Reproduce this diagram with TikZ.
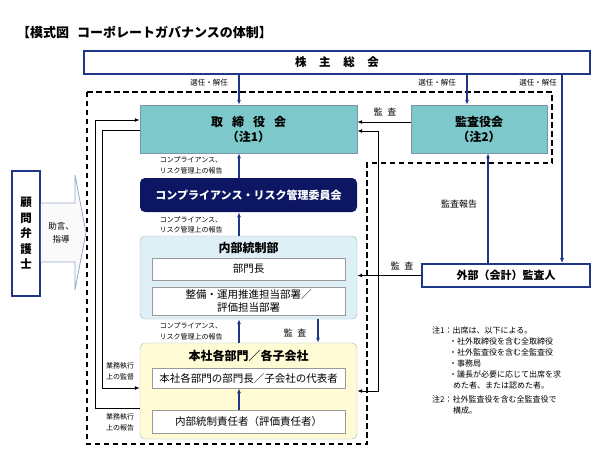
\documentclass[tikz,border=0pt]{standalone}
\usepackage{fontspec}
\setmainfont{Noto Sans CJK JP}
\usetikzlibrary{arrows.meta}
\definecolor{govblue}{RGB}{30,55,135}
\definecolor{govteal}{RGB}{125,200,202}
\definecolor{govnavy}{RGB}{12,22,98}
\definecolor{icfill}{RGB}{222,239,246}
\definecolor{bufill}{RGB}{255,251,212}
\definecolor{boxedge}{RGB}{120,150,165}
\definecolor{adviceedge}{RGB}{150,170,200}

\begin{document}
\begin{tikzpicture}[x=1pt, y=-1pt,
    bluebox/.style={draw=govblue, line width=1.6pt, fill=white, inner sep=0pt},
    tealbox/.style={draw=boxedge, fill=govteal, inner sep=0pt, minimum height=48pt, align=center, font=\fontsize{12}{15}\selectfont\bfseries},
    groupbox/.style={draw=boxedge!70, rounded corners=5pt, minimum width=217pt, inner sep=0pt},
    innerbox/.style={draw=gray!80, fill=white, minimum width=193pt, inner sep=0pt, align=center, font=\fontsize{10.5}{13}\selectfont},
    heading/.style={inner sep=0pt, font=\fontsize{12}{14}\selectfont\bfseries},
    lbl/.style={inner sep=0pt, align=center, font=\fontsize{7}{10.5}\selectfont},
    sellbl/.style={inner sep=0pt, font=\fontsize{7.5}{9}\selectfont},
    midlbl/.style={inner sep=0pt, font=\fontsize{9}{11}\selectfont},
    bluearr/.style={draw=govblue, line width=1.3pt, -{Latex[length=5pt,width=4pt]}},
    blackarr/.style={line width=1pt, -{Latex[length=5pt,width=4pt]}}]

    \useasboundingbox (0,0) rectangle (615,461);

    \node[anchor=west, inner sep=0pt, font=\fontsize{13}{15}\selectfont\bfseries] (title) at (17,32) {【模式図\hspace{0.6em}コーポレートガバナンスの体制】};

    \draw[line width=1.3pt, dash pattern=on 5.5pt off 3.5pt] (87,92) -- (552,92) -- (552,163) -- (367,163) -- (367,444) -- (87,444) -- cycle;

    \node[bluebox, minimum width=506pt, minimum height=23pt, font=\fontsize{11.5}{14}\selectfont\bfseries] (agm) at (337,62.5) {株\hspace{1.1em}主\hspace{1.1em}総\hspace{1.1em}会};
    \node[tealbox, minimum width=217pt] (board) at (248.5,129) {取\hspace{0.75em}締\hspace{0.75em}役\hspace{0.75em}会\\（注1）};
    \node[tealbox, minimum width=136pt] (kansa) at (479,129) {監査役会\\（注2）};
    \node[fill=govnavy, rounded corners=5pt, minimum width=217pt, minimum height=34pt, inner sep=0pt, text=white, font=\fontsize{11}{13}\selectfont\bfseries] (crc) at (248.5,195) {コンプライアンス・リスク管理委員会};

    \node[groupbox, fill=icfill, minimum height=83pt] (ic) at (248.5,277.5) {};
    \node[heading] (ictitle) at (248.5,248) {内部統制部};
    \node[innerbox, minimum height=22pt] (ichead) at (248.5,269) {部門長};
    \node[innerbox, minimum height=28pt] (icdept) at (248.5,301) {整備・運用推進担当部署／\\評価担当部署};

    \node[groupbox, fill=bufill, minimum height=96pt] (bu) at (248.5,391) {};
    \node[heading] (butitle) at (248.5,356) {本社各部門／各子会社};
    \node[innerbox, minimum height=20pt] (buhead) at (248.5,378) {本社各部門の部門長／子会社の代表者};
    \node[innerbox, minimum height=23pt] (buresp) at (248.5,421.5) {内部統制責任者（評価責任者）};

    \node[bluebox, minimum width=168pt, minimum height=23pt, font=\fontsize{11}{13}\selectfont\bfseries] (ext) at (506,275.5) {外部（会計）監査人};
    \node[bluebox, minimum width=28pt, minimum height=125pt, align=center, font=\fontsize{11.5}{15.5}\selectfont\bfseries] (lawyer) at (26,233.5) {顧\\問\\弁\\護\\士};

    \draw[draw=adviceedge, fill=gray!4, line width=0.8pt] (lawyer.east |- 0,203) -- (75,203) -- (75,175) -- (86,232.5) -- (75,290) -- (75,262) -- (lawyer.east |- 0,262);
    \node[align=center, inner sep=0pt, font=\fontsize{8.5}{13}\selectfont] (advice) at (61,232.5) {助言、\\指導};

    \coordinate (spine) at (239,0);
    \coordinate (kspine) at (467,0);
    \coordinate (espine) at (562,0);
    \coordinate (rspine) at (488,0);
    \coordinate (aspine) at (318,0);
    \coordinate (rline) at (378,0);
    \coordinate (lout) at (95,0);
    \coordinate (lin) at (102,0);

    \draw[bluearr] (agm.south -| spine) -- (board.north -| spine);
    \draw[bluearr] (agm.south -| kspine) -- (kansa.north -| kspine);
    \draw[bluearr] (agm.south -| espine) -- (ext.north -| espine);
    \draw[bluearr] (ext.north -| rspine) -- (kansa.south -| rspine);
    \draw[blackarr] ([yshift=7pt]kansa.west) -- ([yshift=7pt]kansa.west -| board.east);
    \draw[blackarr, {Latex[length=5pt,width=4pt]}-{Latex[length=5pt,width=4pt]}] ([yshift=-2pt]board.east) -- ([yshift=-2pt]board.east -| rline) -- (bu.east -| rline) -- (bu.east);
    \draw[blackarr] (ext.west) -- (ext.west -| ic.east);

    \draw[bluearr] (crc.north -| spine) -- (board.south -| spine);
    \draw[bluearr] (ic.north -| spine) -- (crc.south -| spine);
    \draw[bluearr] (bu.north -| spine) -- (ic.south -| spine);
    \draw[bluearr] (ic.south -| aspine) -- (bu.north -| aspine);
    \draw[bluearr] (buresp.north -| spine) -- (buhead.south -| spine);

    \draw[blackarr] ([yshift=-17pt]bu.west) -- ([yshift=-17pt]bu.west -| lout) -- ([yshift=9pt]board.west -| lout) -- ([yshift=9pt]board.west);
    \draw[blackarr] ([yshift=-1pt]board.west) -- ([yshift=-1pt]board.west -| lin) -- ([yshift=3pt]bu.west -| lin) -- ([yshift=3pt]bu.west);

    \node[sellbl] (sel1) at (209,82.5) {選任・解任};
    \node[sellbl] (sel2) at (437,83) {選任・解任};
    \node[sellbl] (sel3) at (538,83) {選任・解任};
    \node[midlbl] (aud1) at (385,112) {監\hspace{0.5em}査};
    \node[midlbl] (aud2) at (402,266) {監\hspace{0.5em}査};
    \node[midlbl] (aud3) at (295,333) {監\hspace{0.5em}査};
    \node[midlbl] (audrep) at (459,204) {監査報告};
    \node[lbl] (rep1) at (191,165.5) {コンプライアンス、\\リスク管理上の報告};
    \node[lbl] (rep2) at (191,225) {コンプライアンス、\\リスク管理上の報告};
    \node[lbl] (rep3) at (191,331.5) {コンプライアンス、\\リスク管理上の報告};
    \node[lbl] (sup) at (120,371.5) {業務執行\\上の監督};
    \node[lbl] (rep4) at (120,422.5) {業務執行\\上の報告};

    \node[anchor=north west, align=left, inner sep=0pt, font=\fontsize{8}{11}\selectfont] (notes) at (432,327) {注1：出席は、以下による。\\
        \hspace*{17pt}・社外取締役を含む全取締役\\
        \hspace*{17pt}・社外監査役を含む全監査役\\
        \hspace*{17pt}・事務局\\
        \hspace*{17pt}・議長が必要に応じて出席を求\\
        \hspace*{21pt}めた者、または認めた者。\\[3pt]
        注2：社外監査役を含む全監査役で\\
        \hspace*{21pt}構成。};
\end{tikzpicture}
\end{document}
